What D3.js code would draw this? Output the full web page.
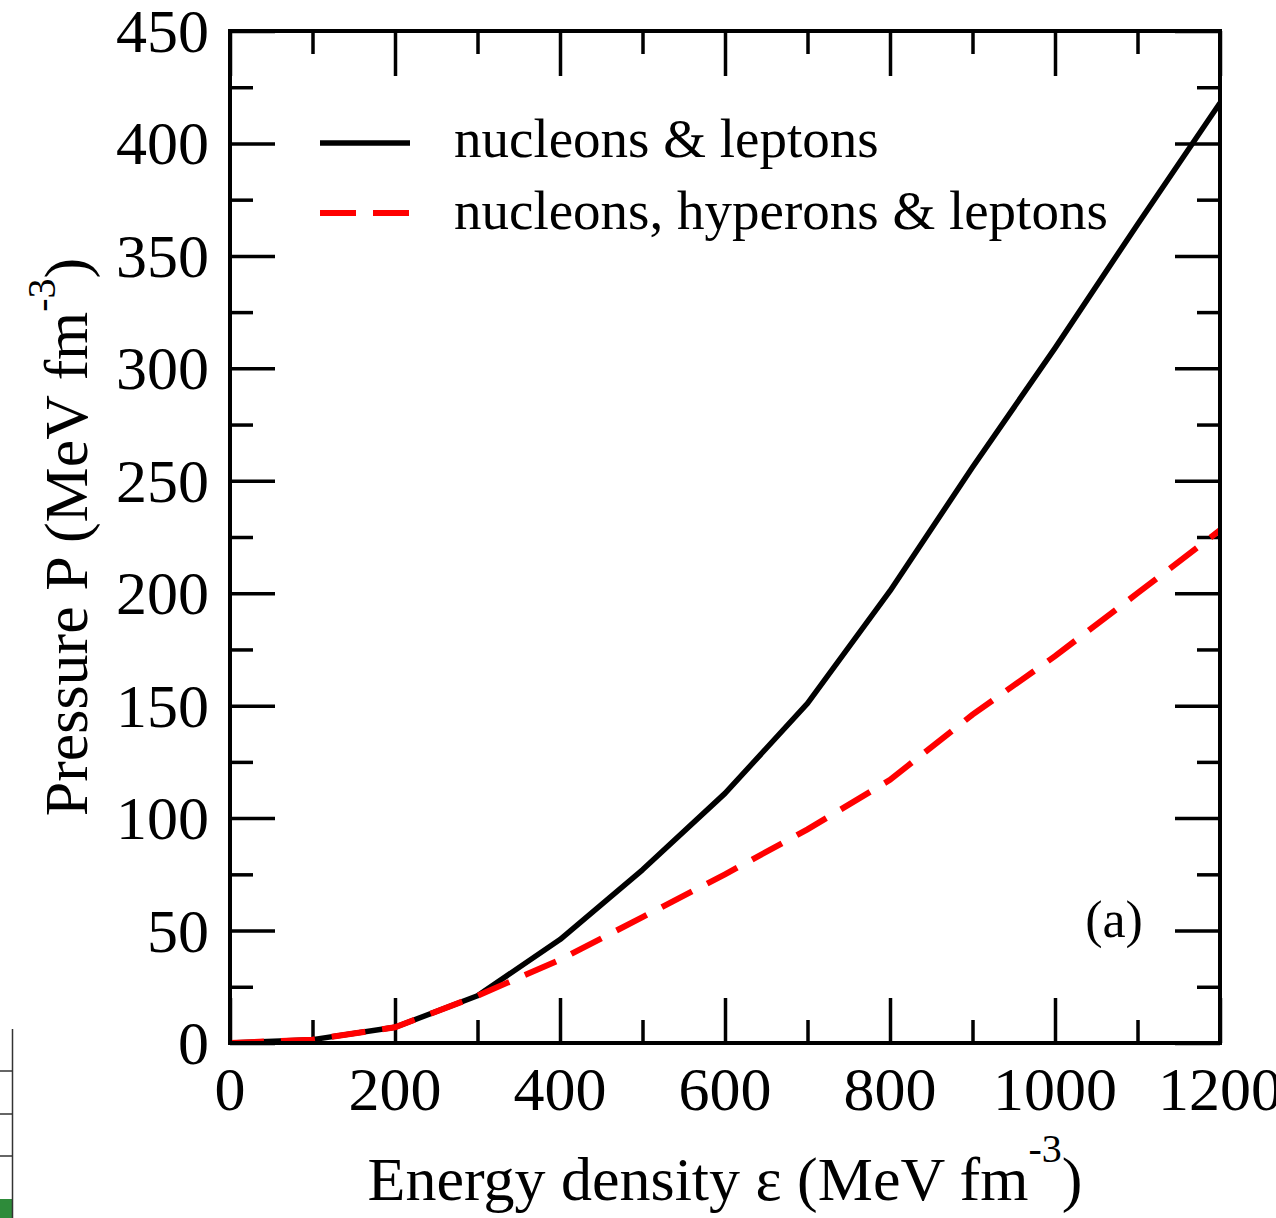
<!DOCTYPE html>
<html>
<head>
<meta charset="utf-8">
<script src="https://cdn.jsdelivr.net/npm/d3@7"></script>
<style>
  html, body { margin: 0; padding: 0; background: #fff; }
  svg { display: block; }
  text { font-family: "Liberation Serif", "Times New Roman", serif; fill: #000; }
</style>
</head>
<body>
<svg id="chart" width="1276" height="1218"></svg>
<script>
// ---- data ----
const energyDensity = [0, 100, 200, 300, 400, 500, 600, 700, 800, 900, 1000, 1100, 1200];
const pressureNL    = [0, 1.5, 7, 21, 46, 77, 111, 151, 201, 256, 309, 364, 418];
const pressureNHL   = [0, 1.5, 7, 21, 37, 56, 75, 95, 117, 146, 172, 200, 228];
const seriesNames   = ["nucleons & leptons", "nucleons, hyperons & leptons"];
const xMajorTicks   = [0, 200, 400, 600, 800, 1000, 1200];
const xMinorTicks   = [100, 300, 500, 700, 900, 1100];
const yMajorTicks   = [0, 50, 100, 150, 200, 250, 300, 350, 400, 450];
const yMinorTicks   = [25, 75, 125, 175, 225, 275, 325, 375, 425];

const svg = d3.select("#chart");
const L = 230, R = 1220, T = 31, B = 1043;
const x = d3.scaleLinear().domain([0, 1200]).range([L, R]);
const y = d3.scaleLinear().domain([0, 450]).range([B, T]);

// ---- fragment of neighbouring panel at bottom-left ----
const frag = svg.append("g");
frag.append("rect").attr("x", 0).attr("y", 1199).attr("width", 13).attr("height", 19).attr("fill", "#2e8b3a");
frag.append("line").attr("x1", 12.5).attr("x2", 12.5).attr("y1", 1029).attr("y2", 1218)
  .attr("stroke", "#333").attr("stroke-width", 1.5);
[1071, 1114, 1156].forEach(v => frag.append("line").attr("x1", 0).attr("x2", 12.5)
  .attr("y1", v).attr("y2", v).attr("stroke", "#333").attr("stroke-width", 1.5));

// ---- axes (ticks inward on all four sides) ----
function styleAxis(g) {
  g.select(".domain").remove();
  g.selectAll("text").remove();
  g.selectAll(".tick line").attr("stroke", "#000").attr("stroke-width", 3.5);
}
const major = 45, minor = 23;
svg.append("g").attr("transform", `translate(0,${B})`)
  .call(d3.axisBottom(x).tickValues(xMajorTicks).tickSize(-major)).call(styleAxis);
svg.append("g").attr("transform", `translate(0,${B})`)
  .call(d3.axisBottom(x).tickValues(xMinorTicks).tickSize(-minor)).call(styleAxis);
svg.append("g").attr("transform", `translate(0,${T})`)
  .call(d3.axisTop(x).tickValues(xMajorTicks).tickSize(-major)).call(styleAxis);
svg.append("g").attr("transform", `translate(0,${T})`)
  .call(d3.axisTop(x).tickValues(xMinorTicks).tickSize(-minor)).call(styleAxis);
svg.append("g").attr("transform", `translate(${L},0)`)
  .call(d3.axisLeft(y).tickValues(yMajorTicks).tickSize(-major)).call(styleAxis);
svg.append("g").attr("transform", `translate(${L},0)`)
  .call(d3.axisLeft(y).tickValues(yMinorTicks).tickSize(-minor)).call(styleAxis);
svg.append("g").attr("transform", `translate(${R},0)`)
  .call(d3.axisRight(y).tickValues(yMajorTicks).tickSize(-major)).call(styleAxis);
svg.append("g").attr("transform", `translate(${R},0)`)
  .call(d3.axisRight(y).tickValues(yMinorTicks).tickSize(-minor)).call(styleAxis);

// tick labels
svg.append("g").selectAll("text").data(xMajorTicks).join("text")
  .attr("x", d => x(d)).attr("y", 1110).attr("text-anchor", "middle")
  .attr("font-size", 62).text(d => d);
svg.append("g").selectAll("text").data(yMajorTicks).join("text")
  .attr("x", 209).attr("y", d => y(d) + 21).attr("text-anchor", "end")
  .attr("font-size", 62).text(d => d);

// ---- curves ----
const line = d3.line().x(d => x(d[0])).y(d => y(d[1]));
const clip = svg.append("clipPath").attr("id", "plotclip");
clip.append("rect").attr("x", L).attr("y", T).attr("width", R - L).attr("height", B - T);
const curves = svg.append("g").attr("clip-path", "url(#plotclip)");
curves.append("path").datum(d3.zip(energyDensity, pressureNL))
  .attr("d", line).attr("fill", "none").attr("stroke", "#000")
  .attr("stroke-width", 5.5).attr("stroke-linejoin", "round");
curves.append("path").datum(d3.zip(energyDensity, pressureNHL))
  .attr("d", line).attr("fill", "none").attr("stroke", "#ff0000")
  .attr("stroke-width", 6).attr("stroke-dasharray", "34,17");

// frame
svg.append("rect").attr("x", L).attr("y", T).attr("width", R - L).attr("height", B - T)
  .attr("fill", "none").attr("stroke", "#000").attr("stroke-width", 4);

// ---- legend ----
const leg = svg.append("g");
leg.append("line").attr("x1", 320).attr("x2", 410).attr("y1", 143).attr("y2", 143)
  .attr("stroke", "#000").attr("stroke-width", 5.5);
leg.append("line").attr("x1", 320).attr("x2", 410).attr("y1", 213).attr("y2", 213)
  .attr("stroke", "#ff0000").attr("stroke-width", 6).attr("stroke-dasharray", "36,17");
leg.append("text").attr("x", 454).attr("y", 157).attr("font-size", 55).text(seriesNames[0]);
leg.append("text").attr("x", 454).attr("y", 229).attr("font-size", 55).text(seriesNames[1]);

// panel label
svg.append("text").attr("x", 1114).attr("y", 937).attr("text-anchor", "middle")
  .attr("font-size", 52).text("(a)");

// ---- axis titles ----
const xt = svg.append("text").attr("x", (L + R) / 2).attr("y", 1200)
  .attr("text-anchor", "middle").attr("font-size", 62);
xt.append("tspan").text("Energy density ε (MeV fm");
xt.append("tspan").attr("font-size", 40).attr("dy", -38).text("-3");
xt.append("tspan").attr("dy", 38).text(")");

const yt = svg.append("text").attr("transform", `translate(87,${(T + B) / 2}) rotate(-90)`)
  .attr("text-anchor", "middle").attr("font-size", 62);
yt.append("tspan").text("Pressure P (MeV fm");
yt.append("tspan").attr("font-size", 40).attr("dy", -32).text("-3");
yt.append("tspan").attr("dy", 32).text(")");
</script>
</body>
</html>
